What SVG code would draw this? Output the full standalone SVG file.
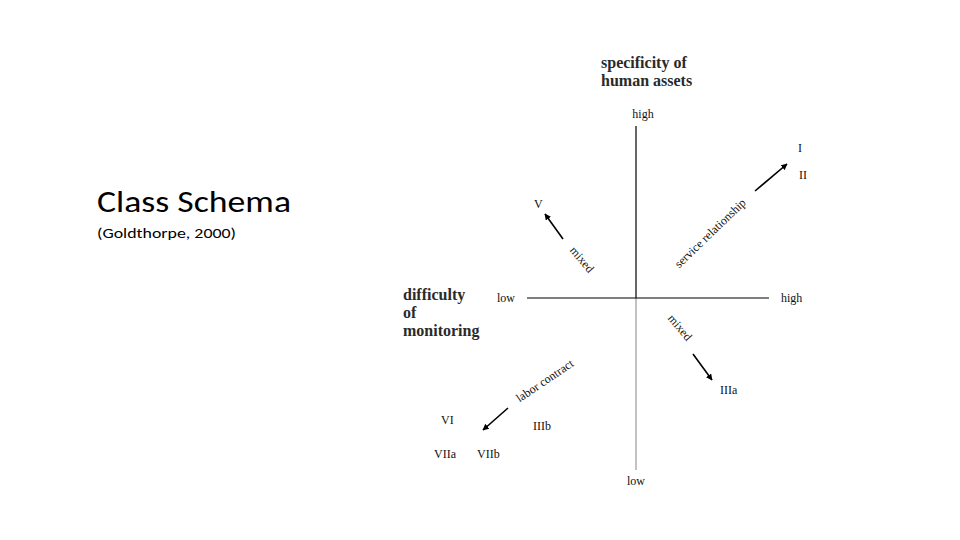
<svg xmlns="http://www.w3.org/2000/svg" width="960" height="540" viewBox="0 0 960 540">
<defs>
<marker id="ah" viewBox="0 0 10 10" refX="9" refY="5" markerWidth="4" markerHeight="4" orient="auto">
<path d="M0,0 L10,5 L0,10 z" fill="#000"/>
</marker>
<style>
.t{font-family:"Liberation Serif","DejaVu Serif",serif;fill:#111;}
.b{font-size:16px;font-weight:bold;fill:#2a2a2a;}
.s{font-size:12px;}
.arr{stroke:#000;stroke-width:1.6;fill:none;marker-end:url(#ah);}
.ax{stroke:#000;stroke-width:1.2;}
.cal{font-family:Carlito,"Open Sans","Liberation Sans",sans-serif;fill:#000;}
</style>
</defs>
<rect width="960" height="540" fill="#fff"/>
<g id="title">
<text class="cal" x="97" y="212" font-size="31" textLength="194" lengthAdjust="spacingAndGlyphs">Class Schema</text>
<text class="cal" x="97" y="238" font-size="15" textLength="139" lengthAdjust="spacingAndGlyphs">(Goldthorpe, 2000)</text>
</g>
<g id="axes">
<line class="ax" x1="636" y1="126" x2="636" y2="298"/>
<line x1="636" y1="298" x2="636" y2="470" stroke="#999" stroke-width="1.2"/>
<line class="ax" x1="527" y1="298" x2="769" y2="298"/>
</g>
<g id="axis-labels">
<text class="t b" x="601" y="68">specificity of</text>
<text class="t b" x="601" y="86">human assets</text>
<text class="t s" x="643" y="118" text-anchor="middle">high</text>
<text class="t s" x="636" y="485" text-anchor="middle">low</text>
<text class="t b" x="403" y="300">difficulty</text>
<text class="t b" x="403" y="318">of</text>
<text class="t b" x="403" y="336">monitoring</text>
<text class="t s" x="497" y="302">low</text>
<text class="t s" x="781" y="302">high</text>
</g>
<g id="connectors">
<line class="arr" x1="755" y1="191" x2="787" y2="164"/>
<line class="arr" x1="563" y1="239" x2="545" y2="214"/>
<line class="arr" x1="693" y1="354" x2="712" y2="380"/>
<line class="arr" x1="508" y1="408" x2="483" y2="430"/>
</g>
<g id="arrow-labels">
<text class="t s" transform="translate(713,236) rotate(-44)" text-anchor="middle">service relationship</text>
<text class="t s" transform="translate(579,262) rotate(50)" text-anchor="middle">mixed</text>
<text class="t s" transform="translate(677,330) rotate(50)" text-anchor="middle">mixed</text>
<text class="t s" transform="translate(547,384) rotate(-34)" text-anchor="middle">labor contract</text>
</g>
<g id="classes">
<text class="t s" x="798" y="152">I</text>
<text class="t s" x="799" y="179">II</text>
<text class="t s" x="534" y="208">V</text>
<text class="t s" x="720" y="394">IIIa</text>
<text class="t s" x="441" y="424">VI</text>
<text class="t s" x="533" y="430">IIIb</text>
<text class="t s" x="434" y="458">VIIa</text>
<text class="t s" x="477" y="458">VIIb</text>
</g>
</svg>
